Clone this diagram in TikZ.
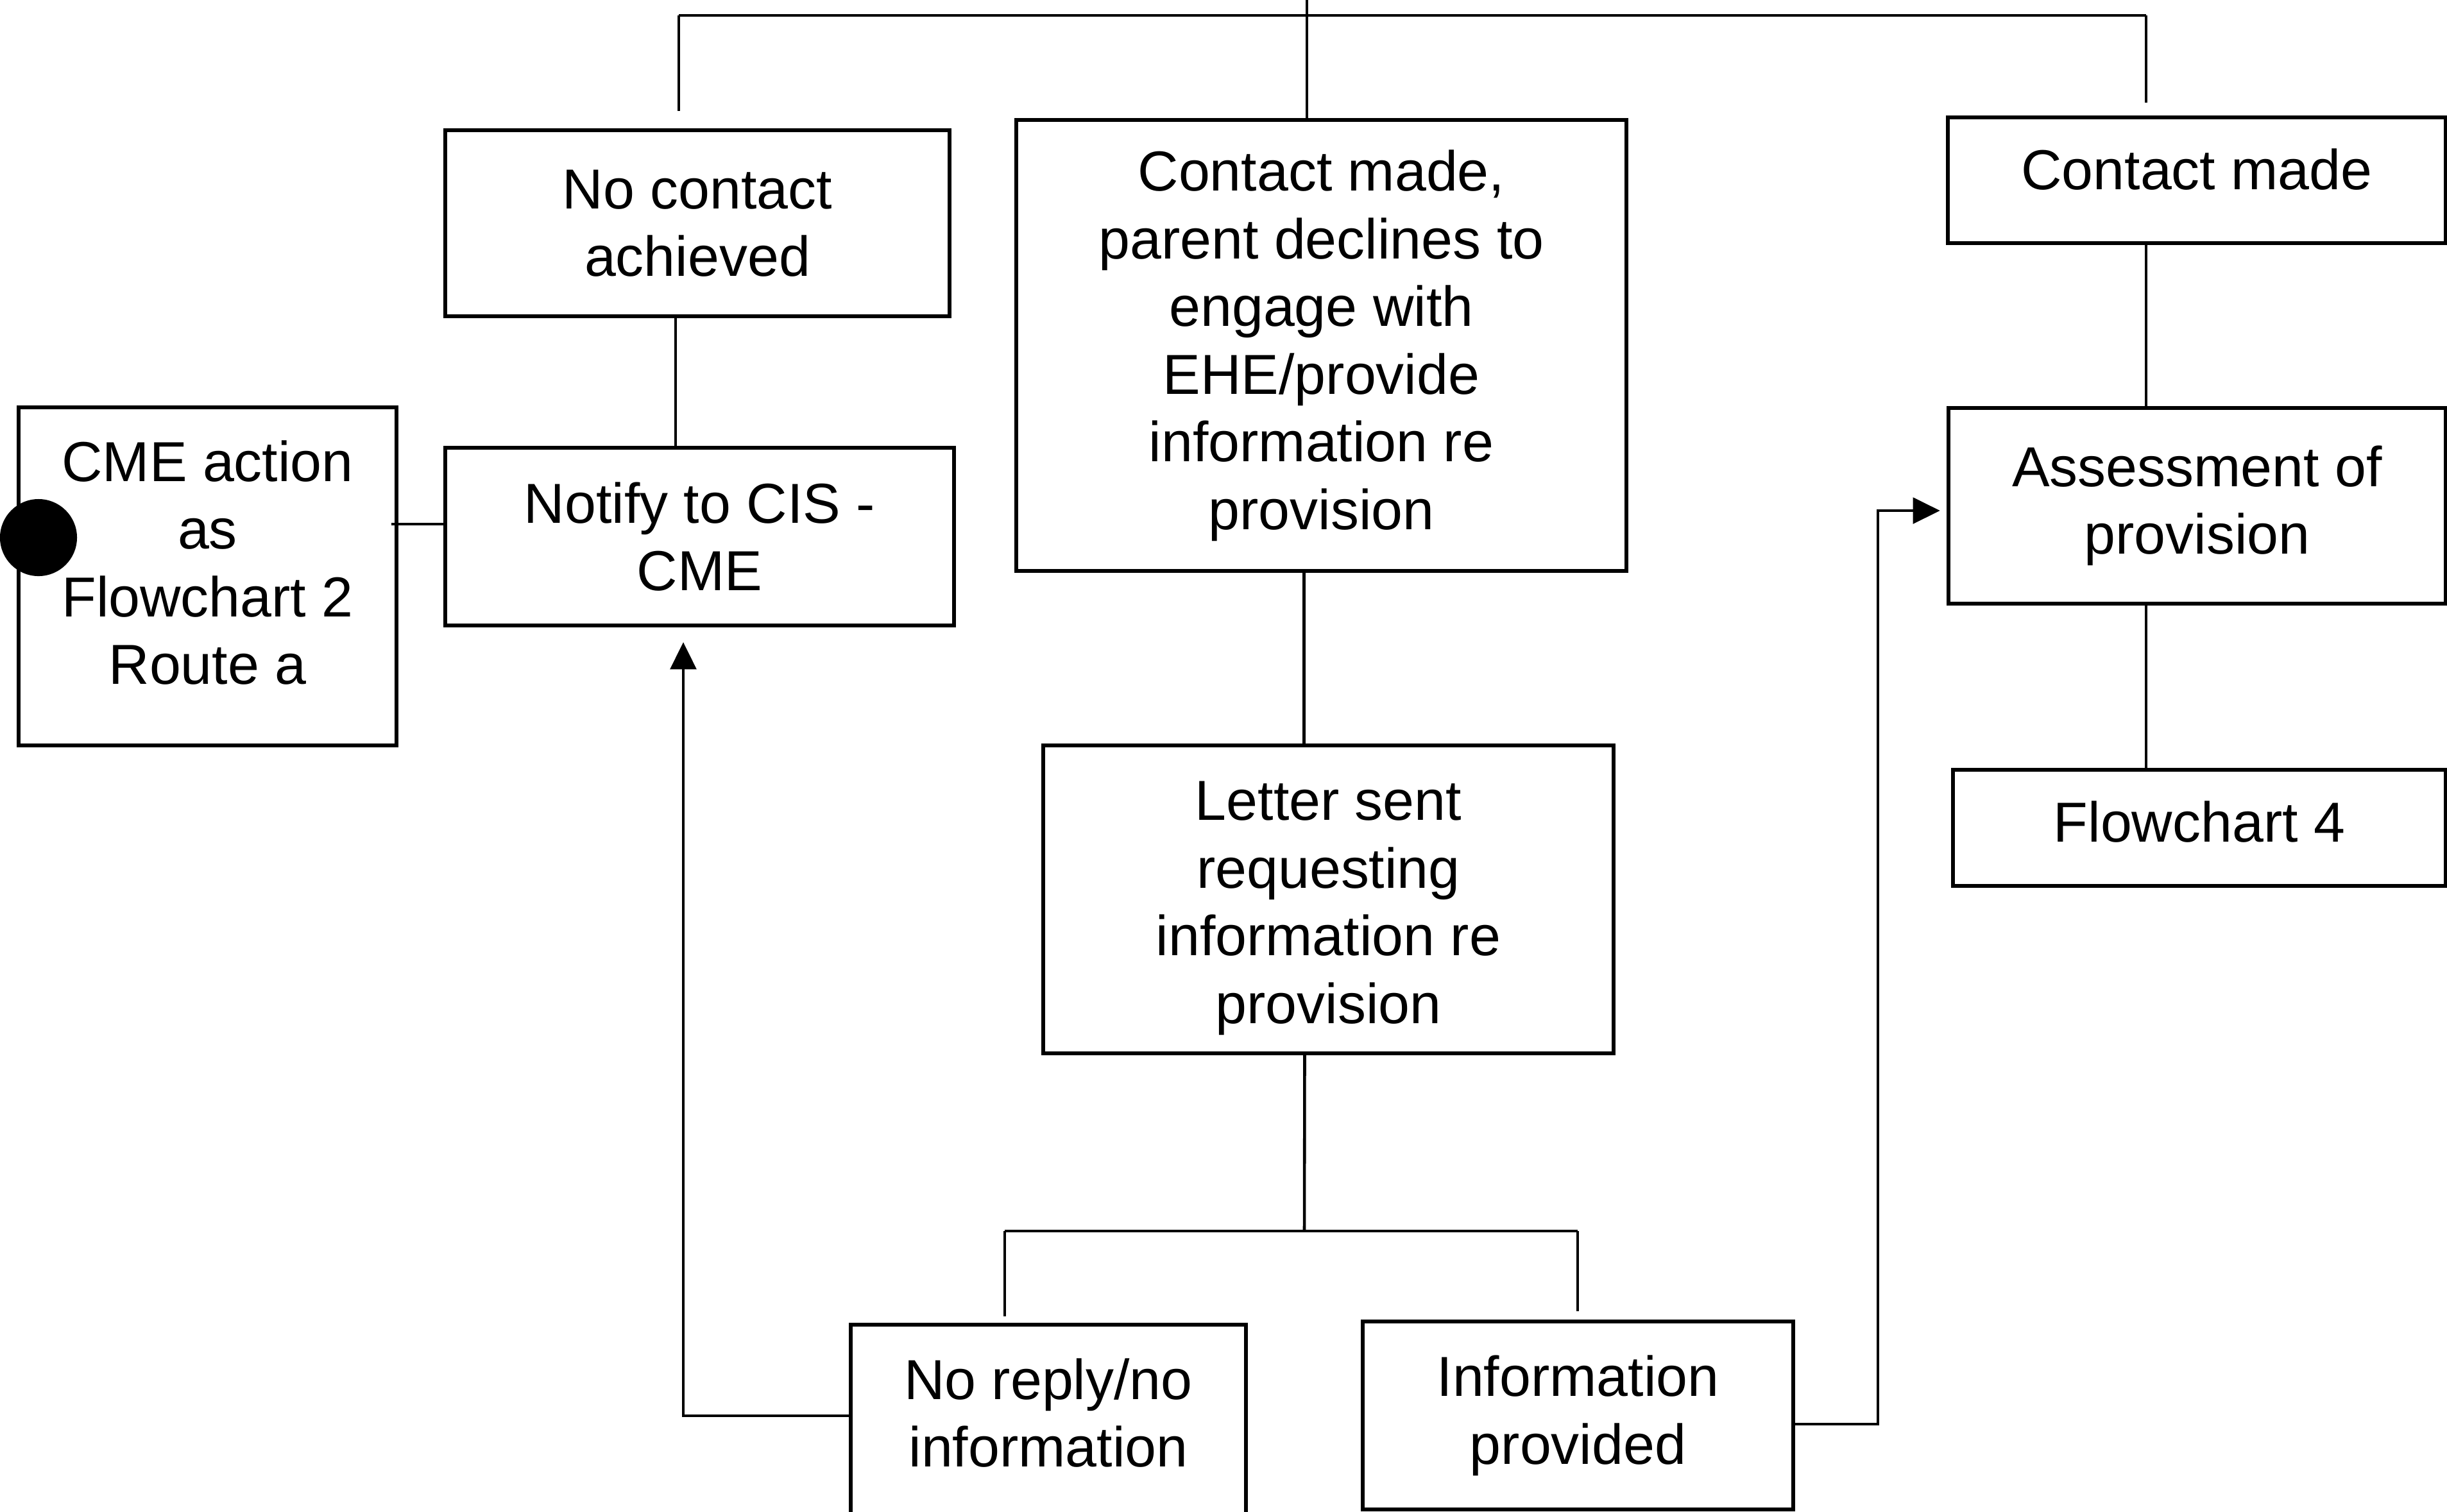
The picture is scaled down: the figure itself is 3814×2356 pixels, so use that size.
\documentclass[tikz,border=0pt]{standalone}
\usepackage{fontspec}
\setmainfont{Liberation Sans}
\usetikzlibrary{arrows.meta,calc}
% invisible struts used to nudge a box's text up (extra depth) or down (extra height)
\newcommand{\liftby}[1]{\rule[-#1]{0pt}{#1}}
\newcommand{\dropby}[1]{\rule{0pt}{#1}}
\tikzset{
  box/.style={draw, line width=1.7pt, inner sep=0pt, align=center,
    font=\fontsize{25pt}{30pt}\selectfont},
  link/.style={line width=1.3pt},
  arrowlink/.style={link, -{Triangle[length=12pt,width=11.5pt]}},
}
\begin{document}
\begin{tikzpicture}[x=0.01cm,y=-0.01cm]
\useasboundingbox (0,0) rectangle (3814,2356);

% boxes
\node[box, minimum width=5.89cm, minimum height=5.27cm] (cme) at (323.5,898.5)
  {CME action\\as\\Flowchart 2\\Route a\liftby{0.44cm}};
\node[box, minimum width=7.86cm, minimum height=2.90cm] (nocontact) at (1087,348)
  {No contact\\achieved};
\node[box, minimum width=7.93cm, minimum height=2.77cm] (notify) at (1090.5,836.5)
  {Notify to CIS -\\CME};
\node[box, minimum width=9.51cm, minimum height=7.03cm] (parent) at (2059.5,538.5)
  {Contact made,\\parent declines to\\engage with\\EHE/provide\\information re\\provision};
\node[box, minimum width=7.76cm, minimum height=1.96cm] (contact) at (3424,281)
  {Contact made\liftby{0.34cm}};
\node[box, minimum width=7.75cm, minimum height=3.05cm] (assess) at (3424.5,788.5)
  {Assessment of\\provision};
\node[box, minimum width=7.68cm, minimum height=1.81cm] (fc4) at (3428,1290.5)
  {Flowchart 4\liftby{0.2cm}};
\node[box, minimum width=8.89cm, minimum height=4.80cm] (letter) at (2070.5,1402)
  {\dropby{0.88cm}Letter sent\\requesting\\information re\\provision};
\node[box, minimum width=6.16cm, minimum height=3.10cm] (noreply) at (1634,2220)
  {No reply/no\\information\liftby{0.36cm}};
\node[box, minimum width=6.71cm, minimum height=2.93cm] (info) at (2459.5,2206.5)
  {Information\\provided};

% entry marker on the left box
\node[circle, fill=black, minimum size=1.2cm, inner sep=0pt] (dot) at (60,838) {};

% top distribution bar
\coordinate (feed) at (2037,0);
\coordinate (busL) at (1058,24);
\coordinate (busR) at (3345,24);
\draw[link] (busL) -- (busR);
\draw[link] (feed) -- (feed |- parent.north);
\draw[link, shorten >=0.27cm] (busL) -- (busL |- nocontact.north);
\draw[link, shorten >=0.2cm] (busR) -- (busR |- contact.north);

% right column
\draw[link] (contact.south -| busR) -- (assess.north -| busR);
\draw[link] (assess.south -| busR) -- (fc4.north -| busR);

% left column
\coordinate (ncdown) at ($(nocontact.south)+(-34,0)$);
\draw[link] (ncdown) -- (ncdown |- notify.north);
\coordinate (cmeout) at ($(cme.east)+(-11,-81.5)$);
\draw[link] (cmeout) -- (cmeout -| notify.west);

% centre column
\coordinate (pdown) at ($(parent.south)+(-27,0)$);
\draw[link] (pdown) -- (pdown |- letter.north);
\coordinate (ldown) at ($(letter.south)+(-37,0)$);
\coordinate (split) at (2033,1919);
\coordinate (splitL) at (1566,1919);
\coordinate (splitR) at (2459,1919);
\draw[link] (ldown) -- (split);
\draw[link] (splitL) -- (splitR);
\draw[link, shorten >=0.1cm] (splitL) -- (splitL |- noreply.north);
\draw[link, shorten >=0.13cm] (splitR) -- (splitR |- info.north);

% return arrows
\coordinate (upL) at (1065,2207);
\draw[arrowlink, shorten >=0.23cm] (upL -| noreply.west) -- (upL) -- (upL |- notify.south);
\coordinate (irout) at ($(info.east)+(0,13.5)$);
\coordinate (upR) at (2927,2220);
\coordinate (turnR) at (2927,796);
\draw[arrowlink, shorten >=0.1cm] (irout) -- (upR) -- (turnR) -- (turnR -| assess.west);
\end{tikzpicture}
\end{document}
